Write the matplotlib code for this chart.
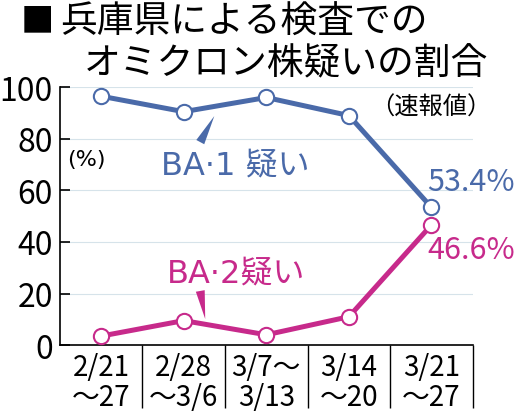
import matplotlib
matplotlib.use('Agg')
import matplotlib.pyplot as plt
import numpy as np
from matplotlib.patches import Polygon

plt.rcParams['font.family'] = ['Noto Sans CJK JP', 'DejaVu Sans']

# データ
weeks = ['2/21\n～27', '2/28\n～3/6', '3/7～\n3/13', '3/14\n～20', '3/21\n～27']
ba1 = [96.5, 90.5, 96.0, 89.0, 53.4]
ba2 = [3.5, 9.5, 4.0, 11.0, 46.6]
yticks = [0, 20, 40, 60, 80, 100]

blue = '#4a6aa9'
magenta = '#c72a8b'
latin = ['DejaVu Sans', 'Noto Sans CJK JP']

fig = plt.figure(figsize=(5.3, 4.14), dpi=100)
ax = fig.add_axes([0.113, 0.164, 0.779, 0.623])

x = list(range(len(weeks)))
ax.plot(x, ba1, color=blue, lw=3.6, marker='o', ms=11, mfc='white', mec=blue, mew=1.5, zorder=3)
ax.plot(x, ba2, color=magenta, lw=3.6, marker='o', ms=11, mfc='white', mec=magenta, mew=1.5, zorder=3)

ax.set_xlim(-0.5, len(weeks) - 0.5)
ax.set_ylim(0, 100)

# 罫線
for v in yticks[1:]:
    ax.axhline(v, color='#d6e3ea', lw=0.8, zorder=1)

ax.spines['top'].set_visible(False)
ax.spines['right'].set_visible(False)
ax.spines['left'].set_linewidth(1.2)
ax.spines['bottom'].set_linewidth(1.2)

ax.set_yticks(yticks)
ax.set_yticklabels([str(v) for v in yticks], fontsize=23)
ax.tick_params(axis='y', direction='in', length=7, width=1.2, pad=5)

ax.set_xticks(x)
ax.set_xticklabels(weeks, fontsize=20, linespacing=1.0)
ax.tick_params(axis='x', which='major', length=0, pad=5)
ax.set_xticks([i + 0.5 for i in x], minor=True)
ax.tick_params(axis='x', which='minor', direction='out', length=45, width=1.0)

# タイトル
fig.text(0.0708, 0.947, '■', fontsize=24, va='center', ha='center')
fig.text(0.113, 0.993, '兵庫県による検査での', fontsize=26.5, va='top', ha='left')
fig.text(0.158, 0.893, 'オミクロン株疑いの割合', fontsize=26.5, va='top', ha='left')
fig.text(0.813, 0.74, '（速報値）', fontsize=17.5, va='center', ha='center')
ax.text(0.063, 0.72, '(%)', transform=ax.transAxes, fontsize=16, va='center', ha='center',
        family=latin)


def pointer(tip, base, color, width=9):
    # 吹き出しの三角(底辺 width ピクセル)
    t = ax.transData.transform(tip)
    b = ax.transData.transform(base)
    d = t - b
    n = np.array([-d[1], d[0]]) / np.hypot(*d) * width / 2
    ax.add_patch(Polygon([t, b + n, b - n], closed=True, transform=None,
                         facecolor=color, edgecolor='none', zorder=2))


# 系列ラベル
ax.text(1.63, 69.8, 'BA·1 疑い', color=blue, fontsize=23, family=latin, ha='center', va='center')
pointer((1.37, 88.8), (1.2, 78.7), blue)
ax.text(1.63, 27.9, 'BA·2疑い', color=magenta, fontsize=23, family=latin, ha='center', va='center')
pointer((1.26, 10.1), (1.2, 21.0), magenta)

ax.text(4.48, 63.5, f'{ba1[-1]:.1f}%', color=blue, fontsize=22, ha='center', va='center')
ax.text(4.48, 37.2, f'{ba2[-1]:.1f}%', color=magenta, fontsize=22, ha='center', va='center')

fig.savefig('out.png', dpi=100)
